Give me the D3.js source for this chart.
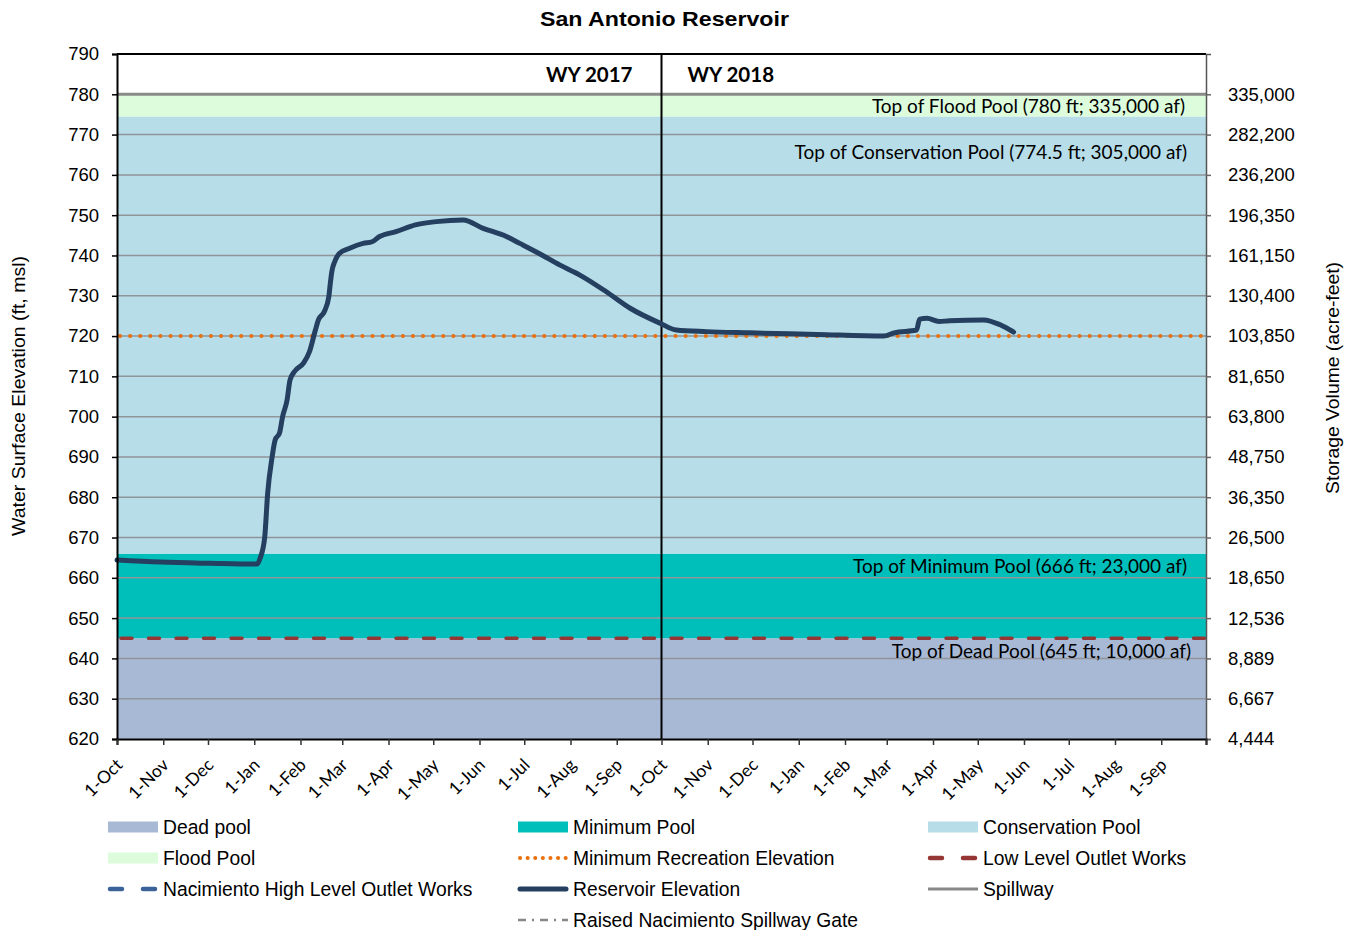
<!DOCTYPE html>
<html>
<head>
<meta charset="utf-8">
<script src="https://cdn.jsdelivr.net/npm/d3@7"></script>
<style>
  body { margin: 0; background: #fff; }
  svg text { fill: #000; }
</style>
</head>
<body>
<div id="chart"></div>
<script>
// define dimensions
var svgWidth = 1353;
var svgHeight = 930;
var margin = { top: 54, right: 147, bottom: 191, left: 117 };
var width = svgWidth - margin.left - margin.right;
var height = svgHeight - margin.top - margin.bottom;

// reservoir elevation
var obsDates = ["2016-10-01", "2016-10-30", "2016-12-02", "2017-01-03", "2017-01-05", "2017-01-08",
  "2017-01-10", "2017-01-13", "2017-01-15", "2017-01-18", "2017-01-20", "2017-01-23", "2017-01-25",
  "2017-01-28", "2017-02-03", "2017-02-07", "2017-02-11", "2017-02-13", "2017-02-17", "2017-02-20",
  "2017-02-21", "2017-02-22", "2017-02-24", "2017-02-27", "2017-03-06", "2017-03-15", "2017-03-21",
  "2017-03-26", "2017-04-06", "2017-04-19", "2017-05-03", "2017-05-21", "2017-06-03", "2017-06-19",
  "2017-06-28", "2017-07-11", "2017-07-25", "2017-08-07", "2017-08-25", "2017-09-10", "2017-09-30",
  "2017-10-11", "2017-10-31", "2017-11-29", "2018-01-13", "2018-02-27", "2018-03-06", "2018-03-21",
  "2018-03-23", "2018-03-28", "2018-04-05", "2018-04-12", "2018-05-05", "2018-05-16", "2018-05-25"];
var elevation = [664.4, 663.9, 663.6, 663.4, 664.9, 670,
  681, 690, 694.2, 696, 700, 704.1, 709.1,
  711.2, 713.3, 716.1, 721.5, 724, 726.1, 729.8,
  733.1, 736, 738.5, 740.5, 741.8, 743, 743.4,
  744.7, 745.9, 747.6, 748.4, 748.8, 746.8, 744.7,
  743.0, 740.5, 737.6, 735.2, 731.0, 726.9, 723.2,
  721.5, 721.1, 720.8, 720.4, 720.0, 720.8, 721.5,
  724.2, 724.4, 723.6, 723.8, 724, 722.8, 721];

// pool bands (ft)
var poolNames = ["Dead pool", "Minimum Pool", "Conservation Pool", "Flood Pool"];
var poolBottoms = [620, 645, 666, 774.5];
var poolTops = [645, 666, 774.5, 780];
var poolColors = ["#a8b9d6", "#00bfbb", "#b7dde8", "#dcfcdc"];

// reference lines (ft)
var spillway = 780;
var minRecreation = 720;
var lowLevelOutlet = 645;

// right axis labels (storage, acre-feet)
var elevTicks = [620, 630, 640, 650, 660, 670, 680, 690, 700, 710, 720, 730, 740, 750, 760, 770, 780];
var storageLabels = ["4,444", "6,667", "8,889", "12,536", "18,650", "26,500", "36,350", "48,750",
  "63,800", "81,650", "103,850", "130,400", "161,150", "196,350", "236,200", "282,200", "335,000"];

var poolLabels = ["Top of Dead Pool (645 ft; 10,000 af)", "Top of Minimum Pool (666 ft; 23,000 af)",
  "Top of Conservation Pool (774.5 ft; 305,000 af)", "Top of Flood Pool (780 ft; 335,000 af)"];

var parse = d3.utcParse("%Y-%m-%d");
var series = obsDates.map(function (d, i) { return { date: parse(d), value: elevation[i] }; });

var svg = d3.select("#chart").append("svg")
  .attr("width", svgWidth)
  .attr("height", svgHeight);

var g = svg.append("g").attr("transform", "translate(" + margin.left + "," + margin.top + ")");

var x = d3.scaleUtc()
  .domain([parse("2016-10-01"), parse("2018-10-01")])
  .range([0, width]);
var y = d3.scaleLinear().domain([620, 790]).range([height, 0]);

var arial = "Arial, 'Liberation Sans', sans-serif";
var calibri = "Lato, 'Open Sans', sans-serif";

// pool bands
g.selectAll("rect.pool")
  .data(poolNames)
  .enter().append("rect")
  .attr("class", "pool")
  .attr("x", 0)
  .attr("width", width)
  .attr("y", function (d, i) { return y(poolTops[i]); })
  .attr("height", function (d, i) { return y(poolBottoms[i]) - y(poolTops[i]); })
  .attr("fill", function (d, i) { return poolColors[i]; });

// gridlines
g.append("g")
  .selectAll("line")
  .data(elevTicks.filter(function (d) { return d > 620 && d !== spillway; }))
  .enter().append("line")
  .attr("x1", 0).attr("x2", width)
  .attr("y1", function (d) { return y(d); })
  .attr("y2", function (d) { return y(d); })
  .attr("stroke", "#8f9599")
  .attr("stroke-width", 1.5);

// reference lines
g.append("line")
  .attr("x1", 0).attr("x2", width)
  .attr("y1", y(spillway)).attr("y2", y(spillway))
  .attr("stroke", "#8a8a8a").attr("stroke-width", 3);
g.append("line")
  .attr("x1", 3).attr("x2", width)
  .attr("y1", y(minRecreation)).attr("y2", y(minRecreation))
  .attr("stroke", "#ea700d").attr("stroke-width", 4)
  .attr("stroke-linecap", "round")
  .attr("stroke-dasharray", "0.1 10");
g.append("line")
  .attr("x1", 4).attr("x2", width)
  .attr("y1", y(lowLevelOutlet)).attr("y2", y(lowLevelOutlet))
  .attr("stroke", "#963634").attr("stroke-width", 3.5)
  .attr("stroke-linecap", "round")
  .attr("stroke-dasharray", "11 16.5");

// water year divider
g.append("line")
  .attr("x1", x(parse("2017-10-01"))).attr("x2", x(parse("2017-10-01")))
  .attr("y1", 0).attr("y2", height)
  .attr("stroke", "#000").attr("stroke-width", 2);

// reservoir elevation line
var line = d3.line()
  .x(function (d) { return x(d.date); })
  .y(function (d) { return y(d.value); })
  .curve(d3.curveMonotoneX);
g.append("path")
  .datum(series)
  .attr("d", line)
  .attr("fill", "none")
  .attr("stroke", "#243f60")
  .attr("stroke-width", 5)
  .attr("stroke-linejoin", "round")
  .attr("stroke-linecap", "round");

// frame
g.append("line").attr("x1", 0).attr("x2", width).attr("y1", 0).attr("y2", 0)
  .attr("stroke", "#000").attr("stroke-width", 2);

// left axis
var yAxis = g.append("g")
  .call(d3.axisLeft(y).tickValues(d3.range(620, 791, 10)).tickSize(5).tickPadding(13));
yAxis.selectAll("text").style("font-family", arial).style("font-size", "18.5px").attr("fill", "#000");
yAxis.select(".domain").attr("stroke", "#000").attr("stroke-width", 2);
yAxis.selectAll(".tick line").attr("stroke", "#000").attr("stroke-width", 1.5);

// right axis
var yRight = g.append("g")
  .attr("transform", "translate(" + width + ",0)")
  .call(d3.axisRight(y).tickValues(elevTicks)
    .tickFormat(function (d, i) { return storageLabels[i]; })
    .tickSize(5).tickPadding(17));
yRight.selectAll("text").style("font-family", arial).style("font-size", "18.5px").attr("fill", "#000");
yRight.select(".domain").attr("stroke", "#555").attr("stroke-width", 1.5);
yRight.selectAll(".tick line").attr("stroke", "#666").attr("stroke-width", 1.5);

// x axis
var monthTicks = d3.utcMonth.range(parse("2016-10-01"), parse("2018-10-02"));
var fmt = d3.utcFormat("%-d-%b");
var xAxis = g.append("g")
  .attr("transform", "translate(0," + height + ")")
  .call(d3.axisBottom(x).tickValues(monthTicks)
    .tickFormat(function (d, i) { return i < monthTicks.length - 1 ? fmt(d) : ""; })
    .tickSize(6));
xAxis.select(".domain").attr("stroke", "#000").attr("stroke-width", 2);
xAxis.selectAll(".tick line").attr("stroke", "#333").attr("stroke-width", 1.5);
xAxis.selectAll("text")
  .style("font-family", calibri).style("font-size", "17.5px").attr("fill", "#000")
  .attr("text-anchor", "end")
  .attr("dy", "0.3em")
  .attr("transform", "translate(-4,17) rotate(-45)");

// annotations
var ann = g.append("g").style("font-family", calibri).style("font-size", "19px");
var annY = [645, 666, 774.5, 780];
var annDy = [20, 19, 43, 19];
var annX = [width - 15, width - 19, width - 19, width - 21];
ann.selectAll("text")
  .data(poolLabels)
  .enter().append("text")
  .attr("x", function (d, i) { return annX[i]; })
  .attr("y", function (d, i) { return y(annY[i]) + annDy[i]; })
  .attr("text-anchor", "end")
  .text(function (d) { return d; });

g.append("text")
  .attr("x", x(parse("2017-10-01")) - 29).attr("y", 28)
  .attr("text-anchor", "end")
  .style("font-family", calibri).style("font-size", "20.5px").style("font-weight", "bold")
  .text("WY 2017");
g.append("text")
  .attr("x", x(parse("2017-10-01")) + 26).attr("y", 28)
  .style("font-family", calibri).style("font-size", "20.5px").style("font-weight", "bold")
  .text("WY 2018");

// titles
svg.append("text")
  .attr("x", 664.5).attr("y", 26)
  .attr("text-anchor", "middle")
  .attr("textLength", 249).attr("lengthAdjust", "spacingAndGlyphs")
  .style("font-family", arial).style("font-size", "21px").style("font-weight", "bold")
  .text("San Antonio Reservoir");
svg.append("text")
  .attr("transform", "translate(25,396) rotate(-90)")
  .attr("text-anchor", "middle")
  .attr("textLength", 280).attr("lengthAdjust", "spacingAndGlyphs")
  .style("font-family", arial).style("font-size", "18.5px")
  .text("Water Surface Elevation (ft, msl)");
svg.append("text")
  .attr("transform", "translate(1339,378) rotate(-90)")
  .attr("text-anchor", "middle")
  .attr("textLength", 232).attr("lengthAdjust", "spacingAndGlyphs")
  .style("font-family", arial).style("font-size", "18.5px")
  .text("Storage Volume (acre-feet)");

// legend
var legendItems = [
  { name: "Dead pool", type: "rect", color: poolColors[0] },
  { name: "Minimum Pool", type: "rect", color: poolColors[1] },
  { name: "Conservation Pool", type: "rect", color: poolColors[2] },
  { name: "Flood Pool", type: "rect", color: poolColors[3] },
  { name: "Minimum Recreation Elevation", type: "line", color: "#ea700d", dash: "0.1 7.5", width: 4, cap: "round" },
  { name: "Low Level Outlet Works", type: "line", color: "#963634", dash: "12 21", width: 4.5, cap: "round" },
  { name: "Nacimiento High Level Outlet Works", type: "line", color: "#3b639a", dash: "12 21", width: 4.5, cap: "round" },
  { name: "Reservoir Elevation", type: "line", color: "#243f60", dash: null, width: 5, cap: "round" },
  { name: "Spillway", type: "line", color: "#888", dash: null, width: 3, cap: "butt" },
  { name: "", type: "none" },
  { name: "Raised Nacimiento Spillway Gate", type: "line", color: "#888", dash: "8 6 2 6", width: 2.5, cap: "butt" }
];
var colX = [108, 518, 928];
var rowY = [827, 858, 889, 920];
var legend = svg.append("g");
var item = legend.selectAll("g")
  .data(legendItems)
  .enter().append("g")
  .attr("transform", function (d, i) { return "translate(" + colX[i % 3] + "," + rowY[Math.floor(i / 3)] + ")"; });
item.filter(function (d) { return d.type === "rect"; })
  .append("rect")
  .attr("x", 0).attr("y", -5.5).attr("width", 50).attr("height", 11)
  .attr("fill", function (d) { return d.color; });
item.filter(function (d) { return d.type === "line"; })
  .append("line")
  .attr("x1", function (d) { return d.cap === "round" ? 2 : 0; })
  .attr("x2", function (d) { return d.cap === "round" ? 48 : 50; })
  .attr("y1", 0).attr("y2", 0)
  .attr("stroke", function (d) { return d.color; })
  .attr("stroke-width", function (d) { return d.width; })
  .attr("stroke-linecap", function (d) { return d.cap; })
  .attr("stroke-dasharray", function (d) { return d.dash; });
item.append("text")
  .attr("x", 55).attr("y", 0).attr("dy", "0.35em")
  .style("font-family", arial).style("font-size", "19.3px")
  .text(function (d) { return d.name; });
</script>
</body>
</html>
